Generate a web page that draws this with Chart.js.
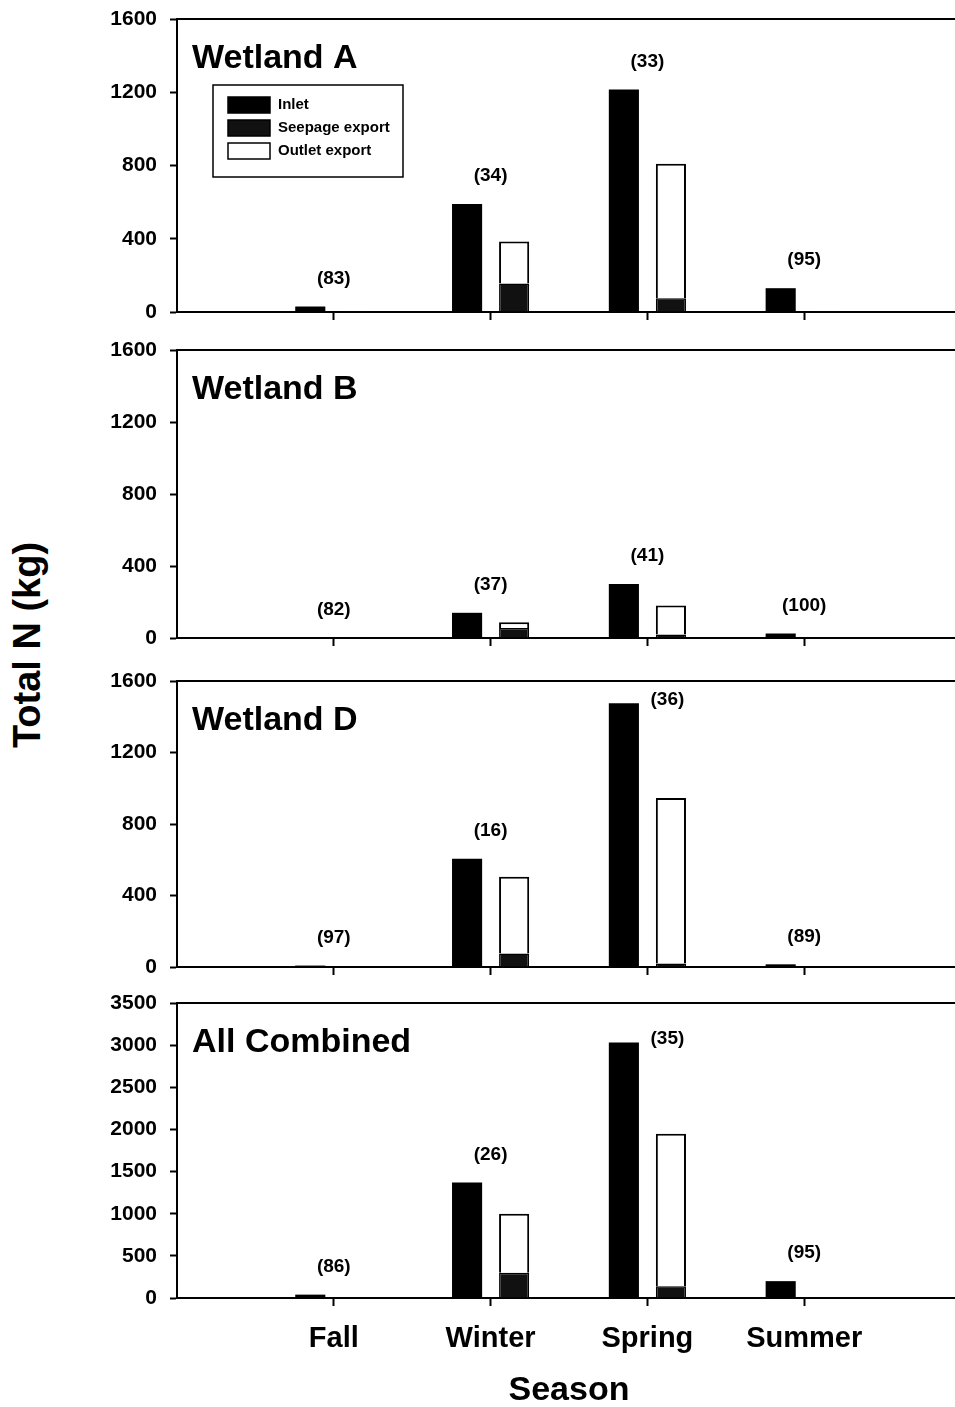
<!DOCTYPE html>
<html>
<head>
<meta charset="utf-8">
<title>Total N by season</title>
<script src="https://cdn.jsdelivr.net/npm/chart.js@4.4.1/dist/chart.umd.min.js"></script>
<style>
  html, body { margin: 0; padding: 0; background: #fff; overflow: hidden; }
  body { width: 955px; height: 1407px; position: relative; font-family: 'Liberation Sans', Arial, sans-serif; }
  canvas { position: absolute; left: 0; }
  #ytitle {
    position: absolute; left: 27px; top: 645px;
    transform: translate(-50%, -50%) rotate(-90deg);
    font-weight: bold; font-size: 38px; white-space: nowrap; color: #000;
  }
</style>
</head>
<body>
<div id="ytitle">Total N (kg)</div>
<!-- y tick labels take 24px above/below the plot area, the x axis 16px on the right -->
<canvas id="panelA" width="961" height="341" style="top:-5px"></canvas>
<canvas id="panelB" width="961" height="336" style="top:326px"></canvas>
<canvas id="panelD" width="961" height="334" style="top:657px"></canvas>
<canvas id="panelAll" width="977" height="429" style="top:979px"></canvas>
<script>
const seasons = ['Fall', 'Winter', 'Spring', 'Summer'];

// Wetland A
const inletA = [30, 590, 1215, 130];
const seepageA = [5, 155, 75, 6];
const outletA = [0, 230, 735, 0];
const retainedA = [83, 34, 33, 95];

// Wetland B
const inletB = [3, 140, 300, 25];
const seepageB = [1, 55, 20, 0];
const outletB = [0, 33, 160, 0];
const retainedB = [82, 37, 41, 100];

// Wetland D
const inletD = [8, 605, 1475, 15];
const seepageD = [1, 75, 20, 2];
const outletD = [0, 430, 925, 0];
const retainedD = [97, 16, 36, 89];

// all wetlands together
const inletAll = [40, 1370, 3030, 200];
const seepageAll = [6, 300, 140, 10];
const outletAll = [0, 700, 1810, 0];
const retainedAll = [86, 26, 35, 95];

const ticksWetland = [0, 400, 800, 1200, 1600];
const ticksAll = [0, 500, 1000, 1500, 2000, 2500, 3000, 3500];

const FONT = "'Liberation Sans', Arial, sans-serif";

// empty slot each side so the seasons sit at 1..4 like the original axis
const padded = (arr) => [null, ...arr.map(v => (v === 0 ? null : v)), null];

// top frame line, panel name, (retention %) labels and the legend box
const panelDecor = {
  id: 'panelDecor',
  afterDatasetsDraw(chart, args, opts) {
    const { ctx, chartArea } = chart;
    const xs = chart.scales.x;
    ctx.save();
    ctx.strokeStyle = '#000';
    ctx.lineWidth = 2;
    ctx.beginPath();
    ctx.moveTo(chartArea.left, chartArea.top);
    ctx.lineTo(chartArea.right, chartArea.top);
    ctx.stroke();

    ctx.fillStyle = '#000';
    ctx.font = 'bold 34px ' + FONT;
    ctx.textAlign = 'left';
    ctx.textBaseline = 'middle';
    ctx.fillText(opts.title, chartArea.left + 15, chartArea.top + 40);

    ctx.font = 'bold 19px ' + FONT;
    ctx.textAlign = 'center';
    const inletMeta = chart.getDatasetMeta(0);
    opts.retained.forEach((pct, i) => {
      const bar = inletMeta.data[i + 1];
      const cx = xs.getPixelForValue(i + 1);
      let x = cx;
      let y = bar.y - 28;
      if (y < chartArea.top + 25) {
        x = cx + 20;
        y = bar.y - 4;
      }
      ctx.fillText('(' + pct + ')', x, y);
    });

    if (opts.legend) {
      const bx = chartArea.left + 36;
      const by = chartArea.top + 66;
      ctx.lineWidth = 1.5;
      ctx.strokeRect(bx, by, 190, 92);
      ctx.font = 'bold 15px ' + FONT;
      ctx.textAlign = 'left';
      chart.data.datasets.forEach((ds, i) => {
        const cy = by + 20 + i * 23;
        ctx.fillStyle = ds.backgroundColor;
        ctx.fillRect(bx + 15, cy - 8, 42, 16);
        ctx.strokeRect(bx + 15, cy - 8, 42, 16);
        ctx.fillStyle = '#000';
        ctx.fillText(ds.label, bx + 65, cy);
      });
    }
    ctx.restore();
  }
};

function makePanel(id, title, inlet, seepage, outlet, retained, yTicks, bottom) {
  const step = yTicks[1] - yTicks[0];
  new Chart(document.getElementById(id), {
    type: 'bar',
    data: {
      labels: ['', ...seasons, ''],
      datasets: [
        {
          label: 'Inlet',
          data: padded(inlet),
          stack: 'in',
          backgroundColor: '#000',
          borderColor: '#000',
          borderWidth: 0,
        },
        {
          label: 'Seepage export',
          data: padded(seepage),
          stack: 'out',
          backgroundColor: '#111',
          borderColor: '#000',
          borderWidth: 1.5,
        },
        {
          label: 'Outlet export',
          data: padded(outlet),
          stack: 'out',
          backgroundColor: '#fff',
          borderColor: '#000',
          borderWidth: 2,
        },
      ],
    },
    options: {
      responsive: false,
      animation: false,
      devicePixelRatio: 1,
      layout: { padding: 0 },
      categoryPercentage: 0.6,
      barPercentage: 0.64,
      plugins: {
        legend: { display: false },
        tooltip: { enabled: false },
        panelDecor: { title: title, retained: retained, legend: id === 'panelA' },
      },
      scales: {
        x: {
          type: 'category',
          offset: false,
          stacked: true,
          grid: {
            offset: false,
            drawOnChartArea: false,
            tickLength: 8,
            tickWidth: 2,
            tickColor: (c) => (c.index >= 1 && c.index <= 4 ? '#000' : 'rgba(0,0,0,0)'),
          },
          border: { color: '#000', width: 2 },
          ticks: {
            display: bottom,
            autoSkip: false,
            maxRotation: 0,
            padding: 16,
            color: '#000',
            font: { family: FONT, weight: 'bold', size: 29 },
          },
          title: {
            display: bottom,
            text: 'Season',
            color: '#000',
            font: { family: FONT, weight: 'bold', size: 34, lineHeight: 1 },
            padding: { top: 0, bottom: 0 },
          },
          afterFit: (s) => { s.height = bottom ? 110 : 12; },
        },
        y: {
          stacked: true,
          min: yTicks[0],
          max: yTicks[yTicks.length - 1],
          grid: {
            drawOnChartArea: false,
            tickLength: 7,
            tickWidth: 2,
            tickColor: '#000',
          },
          border: { color: '#000', width: 2 },
          ticks: {
            stepSize: step,
            padding: 13,
            color: '#000',
            font: { family: FONT, weight: 'bold', size: 21, lineHeight: '22px' },
            callback: (v) => String(v),
          },
          afterFit: (s) => { s.width = 177; },
        },
      },
    },
    plugins: [panelDecor],
  });
}

makePanel('panelA', 'Wetland A', inletA, seepageA, outletA, retainedA, ticksWetland, false);
makePanel('panelB', 'Wetland B', inletB, seepageB, outletB, retainedB, ticksWetland, false);
makePanel('panelD', 'Wetland D', inletD, seepageD, outletD, retainedD, ticksWetland, false);
makePanel('panelAll', 'All Combined', inletAll, seepageAll, outletAll, retainedAll, ticksAll, true);
</script>
</body>
</html>
